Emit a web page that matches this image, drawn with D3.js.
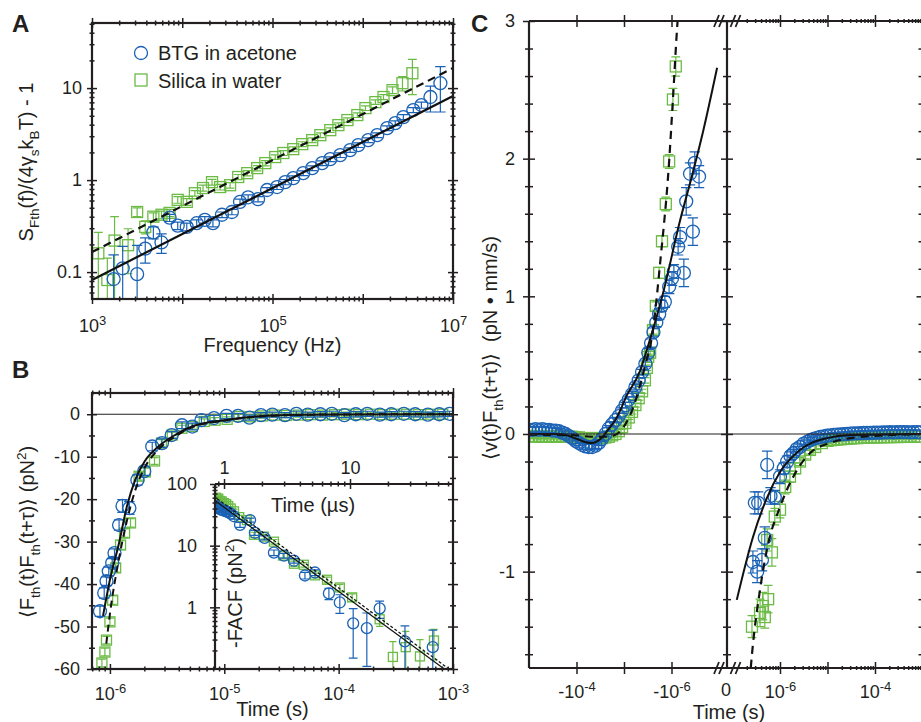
<!DOCTYPE html>
<html>
<head>
<meta charset="utf-8">
<script src="https://cdn.jsdelivr.net/npm/d3@7"></script>
<style>
  body { margin: 0; background: #fff; }
  svg { display: block; }
  text { white-space: pre; }
</style>
</head>
<body>
<svg id="fig" width="921" height="722"></svg>
<script>
// ---------- Panel A: normalised force spectrum (log10 frequency, value, error) ----------
const aBtgLogF = [3.24, 3.34, 3.50, 3.59, 3.68, 3.77, 3.86, 3.95, 4.05, 4.16, 4.25, 4.34, 4.44, 4.55, 4.64, 4.73, 4.84, 4.94, 5.05, 5.14, 5.23, 5.34, 5.44, 5.55, 5.64, 5.75, 5.86, 5.95, 6.06, 6.16, 6.27, 6.36, 6.45, 6.56, 6.65, 6.75, 6.86];
const aBtgVal = [0.084, 0.110, 0.095, 0.18, 0.27, 0.21, 0.39, 0.32, 0.31, 0.34, 0.37, 0.34, 0.42, 0.45, 0.58, 0.65, 0.62, 0.78, 0.84, 0.95, 1.05, 1.19, 1.35, 1.53, 1.69, 1.87, 2.12, 2.40, 2.72, 3.08, 3.67, 4.16, 4.84, 5.77, 6.54, 8.0, 11.3];
const aBtgErr = [0.07, 0.08, 0.10, 0.055, 0.04, 0.05, 0.035, 0.03, 0.03, 0.03, 0.03, 0.03, 0.03, 0.03, 0.04, 0.04, 0.04, 0.05, 0.05, 0.06, 0.06, 0.07, 0.08, 0.09, 0.10, 0.11, 0.12, 0.14, 0.16, 0.18, 0.22, 0.25, 0.30, 0.35, 0.5, 2.5, 5.8];
const aSilLogF = [3.07, 3.17, 3.25, 3.40, 3.50, 3.59, 3.68, 3.77, 3.86, 3.95, 4.05, 4.14, 4.23, 4.33, 4.42, 4.53, 4.62, 4.72, 4.83, 4.92, 5.03, 5.12, 5.23, 5.33, 5.44, 5.53, 5.64, 5.73, 5.83, 5.94, 6.03, 6.14, 6.23, 6.33, 6.44, 6.55];
const aSilVal = [0.16, 0.082, 0.22, 0.196, 0.45, 0.31, 0.40, 0.42, 0.44, 0.61, 0.58, 0.72, 0.82, 0.95, 0.84, 0.88, 1.08, 1.19, 1.35, 1.53, 1.78, 1.97, 2.17, 2.46, 2.72, 3.08, 3.49, 3.96, 4.49, 5.09, 6.06, 7.04, 8.0, 9.5, 11.3, 14.5];
const aSilErr = [0.11, 0.06, 0.18, 0.10, 0.05, 0.05, 0.04, 0.04, 0.04, 0.05, 0.05, 0.05, 0.06, 0.07, 0.06, 0.06, 0.07, 0.08, 0.09, 0.10, 0.10, 0.12, 0.13, 0.15, 0.16, 0.18, 0.20, 0.23, 0.26, 0.30, 0.35, 0.40, 0.50, 0.80, 2.0, 6.0];
const aFitFreq = [1e3, 1e7];
const aFitBtg = [0.082, 8.2];
const aFitSil = [0.165, 16.5];
const aLegend = ['BTG in acetone', 'Silica in water'];

// ---------- Panel B: force autocorrelation (log10 time in s, pN^2) ----------
const bBtgLogT = [-6.087, -6.05, -6.03, -6.01, -5.98, -5.96, -5.92, -5.89, -5.83, -5.76, -5.70, -5.63, -5.545, -5.46, -5.37, -5.28, -5.20, -5.09, -4.98, -4.88, -4.78, -4.68, -4.58, -4.47, -4.37, -4.27, -4.16, -4.06, -3.95, -3.85, -3.75, -3.64, -3.54, -3.43, -3.33, -3.22, -3.12, -3.03];
const bBtgVal = [-46.4, -42.1, -39.3, -37.0, -35.0, -32.7, -26.1, -21.6, -22.1, -15.5, -13.4, -7.6, -6.8, -4.9, -2.6, -2.9, -1.4, -0.9, -0.4, -0.4, -0.8, -0.2, -0.1, -0.2, 0.1, -0.1, 0.0, 0.1, -0.2, 0.0, 0.1, -0.1, 0.0, 0.1, 0.0, -0.1, 0.0, 0.1];
const bBtgErr = [1.2, 1.2, 1.0, 1.0, 1.0, 1.0, 1.2, 1.5, 1.5, 1.2, 1.0, 1.0, 1.0, 0.8, 0.8, 0.8, 0.7, 0.6, 0.6, 0.6, 0.6, 0.6, 0.6, 0.6, 0.6, 0.6, 0.6, 0.6, 0.6, 0.6, 0.6, 0.6, 0.6, 0.6, 0.6, 0.6, 0.6, 0.6];
const bSilLogT = [-6.07, -6.044, -6.03, -6.0, -5.976, -5.95, -5.907, -5.872, -5.82, -5.745, -5.69, -5.61, -5.55, -5.455, -5.37, -5.28, -5.175, -5.08, -4.975, -4.87, -4.77, -4.665, -4.56, -4.455, -4.35, -4.245, -4.14, -4.035, -3.93, -3.825, -3.72, -3.615, -3.51, -3.405, -3.30, -3.195, -3.09];
const bSilVal = [-58.6, -56.0, -53.2, -48.9, -43.8, -36.2, -30.8, -28.0, -25.6, -14.6, -13.6, -11.0, -6.8, -4.9, -3.3, -2.9, -1.7, -1.4, -1.2, -0.5, -0.6, -0.4, -0.2, -0.3, -0.2, -0.1, -0.2, -0.1, 0.0, -0.1, 0.0, -0.1, 0.0, 0.0, -0.1, 0.0, 0.0];
const bSilErr = [0.9, 0.9, 0.9, 0.9, 1.0, 1.0, 1.0, 1.0, 1.0, 0.9, 0.9, 0.8, 0.8, 0.7, 0.7, 0.6, 0.6, 0.6, 0.6, 0.5, 0.5, 0.5, 0.5, 0.5, 0.5, 0.5, 0.5, 0.5, 0.5, 0.5, 0.5, 0.5, 0.5, 0.5, 0.5, 0.5, 0.5];
const bFitBtgUs = [0.87, 1.0, 1.2, 1.41, 1.66, 2.02, 2.68, 3.7, 5.2, 10, 20, 50, 100, 1000];
const bFitBtg = [-47.5, -39, -30.4, -21.6, -15.5, -11, -7.5, -4.9, -2.9, -1.4, -0.5, -0.12, -0.04, 0];
const bFitSilUs = [0.93, 1.0, 1.2, 1.41, 1.66, 2.02, 2.68, 3.7, 5.2, 10, 20, 50, 100, 1000];
const bFitSil = [-54, -47, -34, -25, -18, -12.5, -8.2, -5.3, -3.1, -1.5, -0.55, -0.14, -0.05, 0];

// ---------- Panel B inset: -FACF (time in µs, pN^2) ----------
const iBtgUs = [0.86, 0.88, 0.9, 0.93, 0.96, 1.0, 1.04, 1.08, 1.13, 1.2, 1.34, 1.61, 1.76, 2.1, 2.49, 2.99, 3.59, 4.39, 5.27, 6.8, 8.3, 10.6, 13.6, 17.2, 27.3, 45.4];
const iBtgVal = [44, 41, 42, 39, 38, 37, 36, 35, 33, 30, 21.8, 26, 16.2, 13.4, 7.7, 6.9, 5.7, 3.28, 3.67, 1.68, 1.2, 0.55, 0.46, 0.96, 0.28, 0.226];
const iBtgErr = [3, 3, 3, 3, 3, 3, 3, 3, 3, 3, 2, 2, 1.5, 1, 0.8, 0.6, 0.5, 0.4, 0.4, 0.35, 0.4, 0.4, 0.35, 0.3, 0.22, 0.2];
const iSilUs = [0.86, 0.88, 0.9, 0.93, 0.96, 1.0, 1.04, 1.08, 1.13, 1.2, 1.32, 1.52, 1.73, 2.07, 2.49, 2.94, 3.59, 4.3, 5.27, 6.57, 8.3, 10.4, 17.2, 21.9, 27.7, 35.9, 46.4];
const iSilVal = [60, 56, 58, 53, 52, 49, 47, 44, 40, 36, 29, 26, 15, 14, 11.6, 6.9, 5.1, 4.9, 3.3, 2.8, 2.1, 1.45, 0.64, 0.157, 0.226, 0.16, 0.29];
const iSilErr = [4, 4, 4, 4, 4, 4, 4, 3, 3, 3, 2, 2, 1.5, 1.2, 1, 0.6, 0.5, 0.4, 0.3, 0.3, 0.25, 0.2, 0.15, 0.12, 0.18, 0.14, 0.15];
const iFitBtgUs = [0.82, 56];
const iFitBtg = [56.6, 0.1];
const iFitSilUs = [0.82, 61];
const iFitSil = [64.6, 0.1];

// ---------- Panel C: velocity-force correlation (log10 |time| in s, pN·mm/s) ----------
const cLBtgLogT = [-3.00, -3.07, -3.14, -3.21, -3.28, -3.35, -3.42, -3.49, -3.56, -3.63, -3.70, -3.77, -3.84, -3.91, -3.98, -4.05, -4.12, -4.19, -4.26, -4.33, -4.40, -4.47, -4.54, -4.61, -4.68, -4.75, -4.82, -4.89, -4.96, -5.03, -5.10, -5.17, -5.24, -5.31, -5.38, -5.45, -5.51, -5.57, -5.62, -5.68, -5.74, -5.79, -5.86, -5.95, -6.01, -6.05, -6.14, -6.18, -6.26, -6.31, -6.39, -6.45, -6.49, -6.58];
const cLBtgVal = [0.03, 0.03, 0.035, 0.03, 0.035, 0.03, 0.03, 0.025, 0.025, 0.02, 0.01, 0.0, -0.015, -0.03, -0.05, -0.065, -0.08, -0.09, -0.095, -0.095, -0.085, -0.065, -0.035, 0.0, 0.04, 0.07, 0.10, 0.13, 0.17, 0.21, 0.25, 0.29, 0.34, 0.39, 0.45, 0.51, 0.59, 0.66, 0.74, 0.81, 0.87, 0.93, 0.96, 1.07, 1.13, 1.18, 1.36, 1.43, 1.17, 1.69, 1.89, 1.47, 1.97, 1.87];
const cLBtgErr = [0.02, 0.02, 0.02, 0.02, 0.02, 0.02, 0.02, 0.02, 0.02, 0.02, 0.02, 0.02, 0.02, 0.02, 0.02, 0.02, 0.02, 0.02, 0.02, 0.02, 0.02, 0.02, 0.02, 0.02, 0.02, 0.02, 0.02, 0.02, 0.02, 0.02, 0.02, 0.02, 0.02, 0.02, 0.02, 0.02, 0.03, 0.03, 0.03, 0.03, 0.04, 0.04, 0.04, 0.05, 0.05, 0.05, 0.06, 0.07, 0.1, 0.1, 0.08, 0.1, 0.08, 0.08];
const cLSilLogT = [-3.00, -3.07, -3.14, -3.21, -3.28, -3.35, -3.42, -3.49, -3.56, -3.63, -3.70, -3.77, -3.84, -3.91, -3.98, -4.05, -4.12, -4.19, -4.26, -4.33, -4.40, -4.47, -4.54, -4.61, -4.68, -4.75, -4.82, -4.89, -4.96, -5.03, -5.10, -5.17, -5.24, -5.31, -5.38, -5.44, -5.48, -5.51, -5.55, -5.61, -5.67, -5.74, -5.80, -5.88, -5.95, -6.03, -6.09];
const cLSilVal = [-0.015, -0.015, -0.02, -0.015, -0.02, -0.015, -0.02, -0.015, -0.02, -0.015, -0.02, -0.015, -0.02, -0.02, -0.025, -0.025, -0.03, -0.03, -0.03, -0.03, -0.03, -0.03, -0.03, -0.025, -0.02, -0.01, 0.0, 0.02, 0.05, 0.08, 0.12, 0.16, 0.21, 0.26, 0.31, 0.39, 0.48, 0.56, 0.59, 0.755, 0.93, 1.17, 1.40, 1.67, 1.98, 2.43, 2.67];
const cLSilErr = [0.015, 0.015, 0.015, 0.015, 0.015, 0.015, 0.015, 0.015, 0.015, 0.015, 0.015, 0.015, 0.015, 0.015, 0.015, 0.015, 0.015, 0.015, 0.015, 0.015, 0.015, 0.015, 0.015, 0.015, 0.015, 0.015, 0.015, 0.015, 0.015, 0.015, 0.015, 0.015, 0.015, 0.015, 0.015, 0.02, 0.02, 0.02, 0.02, 0.03, 0.03, 0.04, 0.04, 0.05, 0.05, 0.08, 0.07];
const cRBtgLogT = [-6.57, -6.53, -6.48, -6.46, -6.38, -6.32, -6.27, -6.20, -6.11, -6.00, -5.92, -5.85, -5.78, -5.72, -5.65, -5.58, -5.50, -5.43, -5.36, -5.29, -5.22, -5.15, -5.08, -5.01, -4.94, -4.87, -4.80, -4.73, -4.66, -4.59, -4.52, -4.45, -4.38, -4.31, -4.24, -4.17, -4.10, -4.03, -3.96, -3.89, -3.82, -3.75, -3.68, -3.61, -3.54, -3.47, -3.40, -3.33, -3.26, -3.19, -3.12, -3.05];
const cRBtgVal = [-0.93, -0.50, -1.0, -0.50, -0.915, -0.755, -0.225, -0.45, -0.46, -0.31, -0.25, -0.20, -0.16, -0.14, -0.11, -0.094, -0.07, -0.058, -0.045, -0.035, -0.028, -0.022, -0.017, -0.013, -0.01, -0.007, -0.005, -0.003, -0.001, 0.0, 0.002, 0.004, 0.005, 0.006, 0.007, 0.008, 0.008, 0.009, 0.01, 0.01, 0.012, 0.012, 0.013, 0.012, 0.013, 0.014, 0.013, 0.014, 0.012, 0.013, 0.014, 0.012];
const cRBtgErr = [0.08, 0.08, 0.08, 0.08, 0.08, 0.08, 0.1, 0.06, 0.05, 0.05, 0.04, 0.04, 0.03, 0.03, 0.02, 0.02, 0.02, 0.02, 0.02, 0.02, 0.02, 0.015, 0.015, 0.015, 0.015, 0.015, 0.015, 0.015, 0.015, 0.015, 0.015, 0.015, 0.015, 0.015, 0.015, 0.015, 0.015, 0.015, 0.015, 0.015, 0.015, 0.015, 0.015, 0.015, 0.015, 0.015, 0.015, 0.015, 0.015, 0.015, 0.015, 0.015];
const cRSilLogT = [-6.59, -6.42, -6.36, -6.32, -6.25, -6.27, -6.17, -6.11, -6.00, -5.89, -5.79, -5.68, -5.58, -5.47, -5.37, -5.26, -5.12, -5.00, -4.93, -4.86, -4.79, -4.72, -4.65, -4.58, -4.51, -4.44, -4.37, -4.30, -4.23, -4.16, -4.09, -4.02, -3.95, -3.88, -3.81, -3.74, -3.67, -3.60, -3.53, -3.46, -3.39, -3.32, -3.25, -3.18, -3.11, -3.04];
const cRSilVal = [-1.40, -1.30, -1.25, -1.33, -1.20, -0.77, -0.86, -0.60, -0.55, -0.385, -0.31, -0.25, -0.20, -0.15, -0.116, -0.094, -0.066, -0.05, -0.045, -0.042, -0.04, -0.038, -0.036, -0.034, -0.032, -0.03, -0.03, -0.028, -0.027, -0.026, -0.025, -0.025, -0.024, -0.024, -0.023, -0.023, -0.022, -0.022, -0.022, -0.021, -0.021, -0.021, -0.02, -0.02, -0.02, -0.02];
const cRSilErr = [0.08, 0.1, 0.1, 0.08, 0.1, 0.08, 0.1, 0.06, 0.06, 0.05, 0.04, 0.04, 0.03, 0.03, 0.03, 0.02, 0.02, 0.02, 0.015, 0.015, 0.015, 0.015, 0.015, 0.015, 0.015, 0.015, 0.015, 0.015, 0.015, 0.015, 0.015, 0.015, 0.015, 0.015, 0.015, 0.015, 0.015, 0.015, 0.015, 0.015, 0.015, 0.015, 0.015, 0.015, 0.015, 0.015];
const cLFitBtgLogT = [-3.0, -3.6, -3.8, -4.0, -4.2, -4.33, -4.45, -4.55, -4.64, -4.85, -5.06, -5.34, -5.48, -5.82, -6.18, -6.45, -6.66, -6.96];
const cLFitBtg = [0, 0, -0.01, -0.035, -0.06, -0.066, -0.05, -0.02, 0.02, 0.12, 0.28, 0.46, 0.61, 1.02, 1.55, 1.90, 2.19, 2.66];
const cLFitSilLogT = [-3.0, -4.0, -4.3, -4.64, -4.85, -4.98, -5.19, -5.44, -5.61, -5.76, -5.95, -6.03, -6.12, -6.16];
const cLFitSil = [-0.005, -0.01, -0.02, -0.02, 0.0, 0.044, 0.19, 0.49, 0.755, 1.24, 1.98, 2.43, 2.96, 3.15];
const cRFitBtgLogT = [-6.91, -6.57, -6.27, -6.0, -5.58, -5.01, -4.53, -3.0];
const cRFitBtg = [-1.205, -0.75, -0.46, -0.276, -0.116, -0.03, -0.007, 0];
const cRFitSilLogT = [-6.64, -6.59, -6.42, -6.27, -6.0, -5.72, -5.37, -4.88, -4.32, -3.0];
const cRFitSil = [-1.8, -1.6, -1.13, -0.83, -0.53, -0.31, -0.14, -0.058, -0.022, 0];

// ---------- style ----------
const INK = '#231f20';
const BLUE = '#1b62b5';
const GREEN = '#6bbb45';
const FONT = '"Liberation Sans", Arial, Helvetica, sans-serif';
const TICK_FS = 18;
const TITLE_FS = 20;

const svg = d3.select('#fig').attr('font-family', FONT);
const defs = svg.append('defs');

// ---------- scales ----------
const xA = d3.scaleLog().domain([1e3, 1e7]).range([92, 453]);
const yA = d3.scaleLog().domain([0.051, 51]).range([299, 23]);
const xB = d3.scaleLog().domain([6.97e-7, 1e-3]).range([92, 453]);
const yB = d3.scaleLinear().domain([-60, 5]).range([669, 393]);
const xI = d3.scaleLog().domain([0.848, 65.7]).range([215, 453]);
const yI = d3.scaleLog().domain([0.1, 100]).range([669, 484]);
const yC = d3.scaleLinear().domain([-1.7, 3]).range([668, 21]);
const xCL = d3.scaleLog().domain([1e-3, 1e-7]).range([529, 719]);
const xCR = d3.scaleLog().domain([1e-7, 1e-3]).range([732.5, 922.5]);
const cAxis2 = 727; // y axis of the positive-time part

const pow10 = e => Math.pow(10, e);
const us = v => v * 1e-6;
const rows = (xv, yv, ev, fx = v => v) => xv.map((x, i) => ({ x: fx(x), y: yv[i], e: ev ? ev[i] : 0 }));

function clipRect(id, x0, x1, y0, y1) {
  defs.append('clipPath').attr('id', id).append('rect')
    .attr('x', x0).attr('y', y0).attr('width', x1 - x0).attr('height', y1 - y0);
  return svg.append('g').attr('clip-path', `url(#${id})`);
}

function logMinors(scale) {
  const [a, b] = d3.extent(scale.domain());
  const out = [];
  for (let p = Math.floor(Math.log10(a)); p < Math.ceil(Math.log10(b)); p++) {
    for (let k = 2; k <= 9; k++) {
      const v = k * Math.pow(10, p);
      if (v > a * 1.001 && v < b * 0.999) out.push(v);
    }
  }
  return out;
}

const AX = { bottom: d3.axisBottom, top: d3.axisTop, left: d3.axisLeft, right: d3.axisRight };

function ticks(orient, scale, values, len, tx, ty) {
  const g = svg.append('g').attr('transform', `translate(${tx},${ty})`)
    .call(AX[orient](scale).tickValues(values).tickSize(len).tickSizeOuter(0).tickFormat(''));
  g.select('.domain').remove();
  const lines = g.selectAll('.tick line').attr('stroke', INK).attr('stroke-width', 1.5);
  if (orient === 'bottom' || orient === 'top') lines.attr('y1', -len).attr('y2', len);
  else lines.attr('x1', -len).attr('x2', len);
  return g;
}

function labels(orient, scale, values, fmt, pad, tx, ty) {
  const g = svg.append('g').attr('transform', `translate(${tx},${ty})`)
    .call(AX[orient](scale).tickValues(values).tickSize(0).tickPadding(pad).tickFormat(fmt));
  g.select('.domain').remove();
  g.selectAll('.tick line').remove();
  g.attr('font-family', FONT).attr('font-size', TICK_FS);
  g.selectAll('.tick text').attr('fill', INK);
  return g;
}

function powerLabels(g, sign) {
  g.selectAll('.tick text').each(function (d) {
    const t = d3.select(this).text(null);
    t.append('tspan').text(sign + '10');
    t.append('tspan').attr('dy', '-0.5em').attr('font-size', 13).text(Math.round(Math.log10(d)));
  });
}

function series(layer, data, xs, ys, color, shape, size) {
  const logY = typeof ys.base === 'function';
  const floor = d3.min(ys.domain()) / 10;
  const c = size * 0.4;
  layer.append('g').selectAll('path').data(data.filter(d => d.e > 0)).join('path')
    .attr('d', d => {
      const x = xs(d.x);
      const lo = d.y - d.e;
      const y1 = ys(logY && lo <= 0 ? floor : lo);
      const y2 = ys(d.y + d.e);
      return `M${x},${y1}V${y2}M${x - c},${y1}H${x + c}M${x - c},${y2}H${x + c}`;
    })
    .attr('fill', 'none').attr('stroke', color).attr('stroke-width', 1.2);
  const m = layer.append('g').attr('fill', 'none').attr('stroke', color).attr('stroke-width', 1.3);
  if (shape === 'circle') {
    m.selectAll('circle').data(data).join('circle')
      .attr('cx', d => xs(d.x)).attr('cy', d => ys(d.y)).attr('r', size / 2);
  } else {
    m.selectAll('rect').data(data).join('rect')
      .attr('x', d => xs(d.x) - size / 2).attr('y', d => ys(d.y) - size / 2)
      .attr('width', size).attr('height', size);
  }
}

function fit(layer, xv, yv, xs, ys, dash, width) {
  layer.append('path')
    .datum(xv.map((x, i) => [xs(x), ys(yv[i])]))
    .attr('d', d3.line().curve(d3.curveMonotoneX))
    .attr('fill', 'none').attr('stroke', '#111').attr('stroke-width', width)
    .attr('stroke-dasharray', dash);
}

function rich(x, y, parts, size, rotate) {
  const t = svg.append('text').attr('x', x).attr('y', y).attr('font-size', size)
    .attr('fill', INK).attr('text-anchor', 'middle');
  if (rotate) t.attr('transform', `rotate(-90,${x},${y})`);
  let base = 0;
  parts.forEach(p => {
    const [txt, kind] = typeof p === 'string' ? [p, null] : p;
    const off = kind === 'sub' ? size * 0.3 : kind === 'sup' ? -size * 0.42 : 0;
    const ts = t.append('tspan').attr('dy', off - base).text(txt);
    if (kind) ts.attr('font-size', size * 0.68);
    base = off;
  });
  return t;
}

function frameLine(x1, y1, x2, y2, w = 2.2) {
  svg.append('line').attr('x1', x1).attr('y1', y1).attr('x2', x2).attr('y2', y2)
    .attr('stroke', INK).attr('stroke-width', w);
}

function panelLetter(x, y, s) {
  svg.append('text').attr('x', x).attr('y', y).attr('font-size', 24).attr('font-weight', 'bold')
    .attr('fill', INK).text(s);
}

// ================= Panel A =================
{
  const [x0, x1] = xA.range();
  const [y1, y0] = yA.range();
  const layer = clipRect('clipA', x0, x1, y0, y1);
  series(layer, rows(aSilLogF, aSilVal, aSilErr, pow10), xA, yA, GREEN, 'square', 11);
  series(layer, rows(aBtgLogF, aBtgVal, aBtgErr, pow10), xA, yA, BLUE, 'circle', 13);
  fit(layer, aFitFreq, aFitSil, xA, yA, '8,5', 2.2);
  fit(layer, aFitFreq, aFitBtg, xA, yA, null, 2.2);

  const xMaj = [1e3, 1e4, 1e5, 1e6, 1e7];
  const yMaj = [0.1, 1, 10];
  ticks('bottom', xA, xMaj, 5, 0, y1);
  ticks('top', xA, xMaj, 5, 0, y0);
  ticks('bottom', xA, logMinors(xA), 2.5, 0, y1);
  ticks('top', xA, logMinors(xA), 2.5, 0, y0);
  ticks('left', yA, yMaj, 5, x0, 0);
  ticks('right', yA, yMaj, 5, x1, 0);
  ticks('left', yA, logMinors(yA), 2.5, x0, 0);
  ticks('right', yA, logMinors(yA), 2.5, x1, 0);
  svg.append('rect').attr('x', x0).attr('y', y0).attr('width', x1 - x0).attr('height', y1 - y0)
    .attr('fill', 'none').attr('stroke', INK).attr('stroke-width', 2.2);

  powerLabels(labels('bottom', xA, [1e3, 1e5, 1e7], d => d, 20, 0, y1), '');
  labels('left', yA, yMaj, d => String(d), 10, x0, 0);

  // legend
  const lg = svg.append('g');
  lg.append('circle').attr('cx', 141).attr('cy', 53).attr('r', 6.5)
    .attr('fill', 'none').attr('stroke', BLUE).attr('stroke-width', 1.3);
  lg.append('rect').attr('x', 135).attr('y', 74).attr('width', 12).attr('height', 12)
    .attr('fill', 'none').attr('stroke', GREEN).attr('stroke-width', 1.3);
  lg.selectAll('text').data(aLegend).join('text')
    .attr('x', 158).attr('y', (d, i) => 60 + i * 28)
    .attr('font-size', TITLE_FS).attr('fill', INK).text(d => d);

  svg.append('text').attr('x', (x0 + x1) / 2).attr('y', 352).attr('text-anchor', 'middle')
    .attr('font-size', TITLE_FS).attr('fill', INK).text('Frequency (Hz)');
  rich(33, 162, ['S', ['Fth', 'sub'], '(f)/(4γ', ['s', 'sub'], 'k', ['B', 'sub'], 'T) - 1'], TITLE_FS, true);
  panelLetter(12, 32, 'A');
}

// ================= Panel B =================
{
  const [x0, x1] = xB.range();
  const [y1, y0] = yB.range();
  const layer = clipRect('clipB', x0, x1, y0, y1);
  layer.append('line').attr('x1', x0).attr('x2', x1).attr('y1', yB(0)).attr('y2', yB(0))
    .attr('stroke', INK).attr('stroke-width', 1.2);
  series(layer, rows(bSilLogT, bSilVal, bSilErr, pow10), xB, yB, GREEN, 'square', 10);
  series(layer, rows(bBtgLogT, bBtgVal, bBtgErr, pow10), xB, yB, BLUE, 'circle', 13);
  fit(layer, bFitSilUs.map(us), bFitSil, xB, yB, '7,5', 2);
  fit(layer, bFitBtgUs.map(us), bFitBtg, xB, yB, null, 2);

  // inset
  const [ix0, ix1] = xI.range();
  const [iy1, iy0] = yI.range();
  svg.append('rect').attr('x', ix0).attr('y', iy0).attr('width', ix1 - ix0).attr('height', iy1 - iy0)
    .attr('fill', '#fff');
  const inset = clipRect('clipI', ix0, ix1, iy0, iy1);
  series(inset, rows(iSilUs, iSilVal, iSilErr), xI, yI, GREEN, 'square', 9);
  series(inset, rows(iBtgUs, iBtgVal, iBtgErr), xI, yI, BLUE, 'circle', 11);
  fit(inset, iFitSilUs, iFitSil, xI, yI, '3,2', 1.2);
  fit(inset, iFitBtgUs, iFitBtg, xI, yI, null, 1.2);
  ticks('top', xI, [1, 10], 5, 0, iy0);
  ticks('top', xI, logMinors(xI), 2.5, 0, iy0);
  ticks('left', yI, [1, 10, 100], 5, ix0, 0);
  ticks('left', yI, logMinors(yI), 2.5, ix0, 0);
  frameLine(ix0, iy0, ix1, iy0);
  frameLine(ix0, iy0, ix0, iy1);
  labels('top', xI, [1, 10], d => String(d), 10, 0, iy0);
  labels('left', yI, [1, 10, 100], d => String(d), 18, ix0, 0);
  svg.append('text').attr('x', 313).attr('y', 512).attr('text-anchor', 'middle')
    .attr('font-size', TITLE_FS).attr('fill', INK).text('Time (µs)');
  rich(242, 593, ['-FACF (pN', ['2', 'sup'], ')'], TITLE_FS, true);

  // main axes
  const xMaj = [1e-6, 1e-5, 1e-4, 1e-3];
  const yMaj = d3.range(-60, 1, 10);
  const yMin = d3.range(-55, 5, 10);
  ticks('bottom', xB, xMaj, 5, 0, y1);
  ticks('top', xB, xMaj, 5, 0, y0);
  ticks('bottom', xB, logMinors(xB), 2.5, 0, y1);
  ticks('top', xB, logMinors(xB), 2.5, 0, y0);
  ticks('left', yB, yMaj, 5, x0, 0);
  ticks('right', yB, yMaj, 5, x1, 0);
  ticks('left', yB, yMin, 3, x0, 0);
  ticks('right', yB, yMin, 3, x1, 0);
  svg.append('rect').attr('x', x0).attr('y', y0).attr('width', x1 - x0).attr('height', y1 - y0)
    .attr('fill', 'none').attr('stroke', INK).attr('stroke-width', 2.2);

  powerLabels(labels('bottom', xB, xMaj, d => d, 18, 0, y1), '');
  labels('left', yB, yMaj, d => String(d), 12, x0, 0);
  svg.append('text').attr('x', (x0 + x1) / 2).attr('y', 716).attr('text-anchor', 'middle')
    .attr('font-size', TITLE_FS).attr('fill', INK).text('Time (s)');
  rich(34, 532, ['⟨F', ['th', 'sub'], '(t)F', ['th', 'sub'], '(t+τ)⟩ (pN', ['2', 'sup'], ')'], TITLE_FS, true);
  panelLetter(12, 378, 'B');
}

// ================= Panel C =================
{
  const [lx0, lx1] = xCL.range();
  const [rx0, rx1] = xCR.range();
  const [y1, y0] = yC.range();
  const left = clipRect('clipCL', lx0, lx1, y0, y1);
  const right = clipRect('clipCR', cAxis2, rx1, y0, y1);

  svg.append('line').attr('x1', lx0).attr('x2', rx1).attr('y1', yC(0)).attr('y2', yC(0))
    .attr('stroke', INK).attr('stroke-width', 1.2);

  series(left, rows(cLSilLogT, cLSilVal, cLSilErr, pow10), xCL, yC, GREEN, 'square', 11);
  series(left, rows(cLBtgLogT, cLBtgVal, cLBtgErr, pow10), xCL, yC, BLUE, 'circle', 13);
  fit(left, cLFitSilLogT.map(pow10), cLFitSil, xCL, yC, '8,6', 2.2);
  fit(left, cLFitBtgLogT.map(pow10), cLFitBtg, xCL, yC, null, 2);

  series(right, rows(cRSilLogT, cRSilVal, cRSilErr, pow10), xCR, yC, GREEN, 'square', 11);
  series(right, rows(cRBtgLogT, cRBtgVal, cRBtgErr, pow10), xCR, yC, BLUE, 'circle', 13);
  fit(right, cRFitSilLogT.map(pow10), cRFitSil, xCR, yC, '8,6', 2.2);
  fit(right, cRFitBtgLogT.map(pow10), cRFitBtg, xCR, yC, null, 2);

  const yMaj = [-1, 0, 1, 2, 3];
  const yMin = [-1.6, -1.4, -1.2, -0.8, -0.6, -0.4, -0.2, 0.2, 0.4, 0.6, 0.8, 1.2, 1.4, 1.6, 1.8, 2.2, 2.4, 2.6, 2.8];
  [lx0, cAxis2, rx1].forEach(x => {
    ticks('left', yC, yMaj, 6, x, 0);
    ticks('left', yC, yMin, 4, x, 0);
  });
  const lMaj = [1e-4, 1e-5, 1e-6];
  const rMaj = [1e-6, 1e-5, 1e-4];
  const rMin = logMinors(xCR).filter(v => xCR(v) > rx0 + 4);
  [y0, y1].forEach(y => {
    ticks('bottom', xCL, lMaj, 6, 0, y);
    ticks('bottom', xCR, rMaj, 6, 0, y);
    ticks('bottom', xCR, rMin, 2, 0, y);
  });
  frameLine(lx0, y0, rx1, y0);
  frameLine(lx0, y1, rx1, y1);
  frameLine(lx0, y0, lx0, y1);
  frameLine(cAxis2, y0, cAxis2, y1);
  frameLine(rx1, y0, rx1, y1);

  // axis break marks
  [lx1, rx0 + 3].forEach(bx => {
    [y0, y1].forEach(by => {
      [-2.5, 2.5].forEach(dx => {
        svg.append('line').attr('x1', bx + dx - 2.5).attr('y1', by + 6).attr('x2', bx + dx + 2.5).attr('y2', by - 6)
          .attr('stroke', INK).attr('stroke-width', 1.8);
      });
    });
  });

  labels('left', yC, yMaj, d => String(d), 14, lx0, 0);
  powerLabels(labels('bottom', xCL, [1e-4, 1e-6], d => d, 17, 0, y1), '-');
  powerLabels(labels('bottom', xCR, [1e-6, 1e-4], d => d, 17, 0, y1), '');
  svg.append('text').attr('x', cAxis2 - 1).attr('y', y1 + 28).attr('text-anchor', 'middle')
    .attr('font-size', TICK_FS).attr('fill', INK).text('0');
  svg.append('text').attr('x', 729).attr('y', 719).attr('text-anchor', 'middle')
    .attr('font-size', TITLE_FS).attr('fill', INK).text('Time (s)');
  rich(497, 348, ['⟨v(t)F', ['th', 'sub'], '(t+τ)⟩  (pN • mm/s)'], TITLE_FS, true);
  panelLetter(471, 32, 'C');
}
</script>
</body>
</html>
